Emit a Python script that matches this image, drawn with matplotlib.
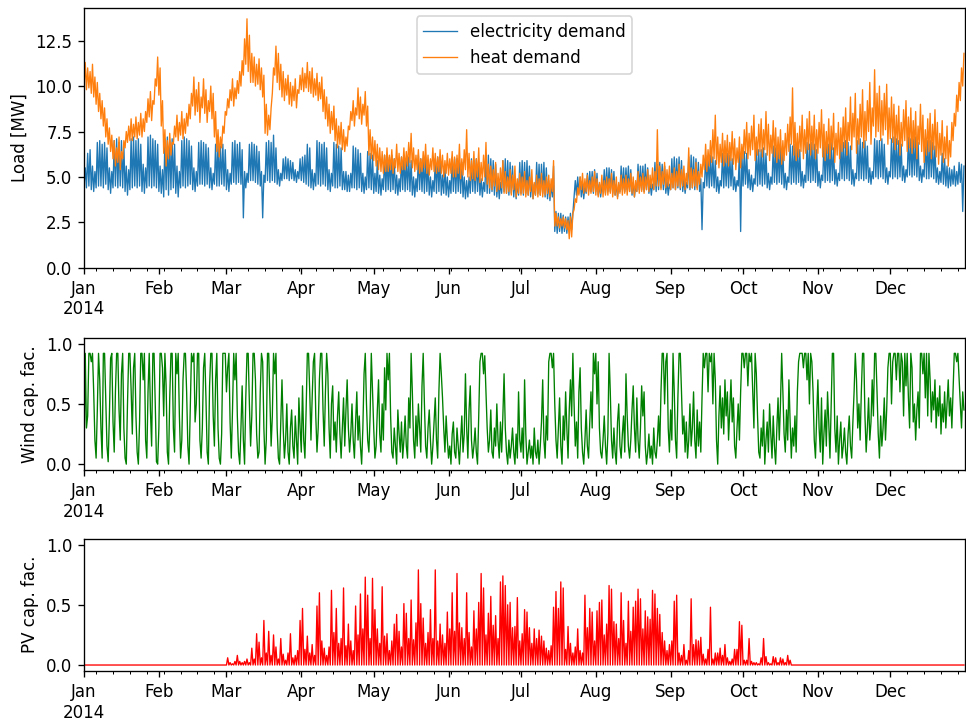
import numpy as np
import matplotlib.pyplot as plt
import matplotlib.dates as mdates
import matplotlib.ticker as mticker

# daily values, one row per week (Wed..Tue), 2014
# electricity demand [MW]: daytime peak / night low
elec_hi = [
    5.5, 6.3, 6.5, 5.6, 5.3, 6.9, 7.0,
    6.8, 6.9, 6.6, 5.5, 5.3, 7.0, 7.1,
    6.9, 7.0, 6.7, 5.6, 5.4, 7.1, 7.2,
    7.0, 7.1, 6.8, 5.7, 5.5, 7.2, 7.3,
    7.1, 7.0, 6.8, 5.6, 5.4, 7.1, 7.2,
    7.0, 7.1, 6.8, 5.6, 5.3, 7.0, 7.2,
    7.1, 7.0, 6.7, 5.5, 5.3, 6.9, 7.0,
    6.9, 6.8, 6.6, 5.5, 5.2, 6.8, 6.9,
    6.7, 6.8, 6.5, 5.4, 5.2, 6.9, 7.0,
    6.8, 6.9, 6.5, 5.3, 5.2, 6.8, 6.9,
    6.8, 6.7, 6.4, 5.3, 5.1, 6.9, 7.0,
    6.9, 7.3, 6.6, 5.4, 5.2, 6.0, 6.1,
    6.0, 5.9, 5.8, 5.4, 5.3, 6.0, 6.1,
    6.2, 6.8, 6.6, 5.4, 5.2, 7.0, 6.9,
    6.8, 6.9, 6.6, 5.4, 5.2, 6.9, 6.8,
    6.7, 6.6, 5.3, 5.3, 5.1, 5.2, 6.7,
    6.6, 6.5, 6.3, 5.2, 5.0, 6.4, 6.3,
    6.2, 5.2, 5.9, 5.1, 4.9, 6.2, 6.1,
    6.1, 6.2, 6.0, 5.1, 4.9, 6.1, 6.2,
    6.0, 6.1, 5.9, 5.0, 4.9, 6.2, 6.0,
    6.0, 6.1, 5.8, 5.0, 4.8, 6.0, 6.1,
    6.0, 5.1, 5.6, 5.0, 4.8, 6.1, 6.0,
    6.0, 5.9, 5.8, 5.0, 4.8, 5.0, 6.0,
    5.9, 6.0, 5.8, 4.9, 4.7, 6.1, 6.2,
    6.0, 5.9, 5.7, 4.9, 4.7, 5.9, 6.0,
    5.9, 5.8, 5.6, 4.8, 4.6, 5.8, 5.9,
    5.8, 5.9, 5.6, 4.8, 4.6, 5.8, 5.7,
    5.7, 5.8, 5.5, 4.8, 4.6, 5.6, 3.1,
    3.0, 3.0, 2.9, 2.8, 2.8, 3.0, 3.0,
    4.8, 5.0, 5.0, 4.6, 4.5, 5.2, 5.3,
    5.3, 5.4, 5.2, 4.6, 4.5, 5.4, 5.5,
    5.5, 5.4, 5.3, 4.6, 4.5, 5.6, 5.5,
    5.5, 5.6, 5.4, 4.7, 4.5, 5.7, 5.6,
    5.6, 5.7, 5.5, 4.7, 4.6, 5.8, 5.7,
    5.8, 5.7, 5.6, 4.8, 4.6, 6.0, 6.1,
    6.0, 6.1, 5.9, 4.9, 4.7, 6.1, 6.2,
    6.1, 6.0, 5.8, 4.9, 4.7, 6.2, 6.1,
    6.2, 6.1, 5.9, 5.0, 4.8, 6.3, 6.2,
    6.3, 6.2, 6.0, 5.0, 4.8, 6.4, 6.3,
    6.4, 6.3, 5.4, 5.1, 4.9, 6.6, 6.5,
    6.5, 6.6, 6.3, 5.2, 5.0, 6.7, 6.6,
    6.6, 6.7, 6.4, 5.2, 5.0, 6.8, 6.7,
    6.8, 6.7, 6.5, 5.3, 5.1, 6.9, 6.8,
    6.9, 6.8, 6.5, 5.3, 5.1, 6.8, 6.9,
    6.8, 6.9, 6.6, 5.4, 5.2, 7.0, 6.9,
    7.0, 6.9, 6.7, 5.4, 5.2, 7.0, 7.1,
    6.9, 7.0, 6.7, 5.5, 5.3, 7.1, 7.0,
    7.0, 7.1, 6.8, 5.5, 5.3, 7.1, 7.2,
    7.1, 7.0, 6.8, 5.6, 5.4, 7.2, 7.1,
    7.1, 7.2, 6.9, 5.6, 5.4, 7.1, 7.0,
    7.0, 6.9, 6.7, 5.5, 5.3, 6.3, 6.0,
    5.6, 5.5, 5.4, 5.6, 5.3, 5.8, 5.7,
    5.6,
]
elec_lo = [
    4.5, 4.4, 4.5, 4.3, 4.2, 4.4, 4.5,
    4.5, 4.4, 4.6, 4.3, 4.1, 4.4, 4.5,
    4.4, 4.5, 4.4, 4.2, 4.0, 4.3, 4.4,
    4.5, 4.4, 4.5, 4.2, 4.1, 4.4, 4.5,
    4.4, 4.5, 4.4, 4.2, 4.1, 3.9, 4.3,
    4.0, 4.3, 4.4, 4.1, 3.9, 4.4, 4.5,
    4.4, 4.5, 4.6, 4.3, 4.2, 4.5, 4.6,
    4.6, 4.5, 4.6, 4.4, 4.3, 4.6, 4.5,
    4.5, 4.6, 4.5, 4.3, 4.2, 4.6, 4.7,
    4.6, 4.7, 4.6, 2.75, 4.4, 4.7, 4.8,
    4.8, 4.7, 4.6, 4.5, 2.75, 4.7, 4.8,
    4.7, 4.8, 4.7, 4.6, 4.5, 4.8, 4.9,
    4.9, 4.8, 4.9, 4.8, 4.7, 4.9, 4.8,
    4.7, 4.6, 4.5, 4.4, 4.3, 4.5, 4.6,
    4.5, 4.6, 4.5, 4.3, 4.2, 4.5, 4.4,
    4.4, 4.5, 4.3, 4.3, 4.2, 4.2, 4.4,
    4.4, 4.3, 4.4, 4.2, 4.1, 4.3, 4.4,
    4.3, 4.1, 4.2, 4.1, 4.0, 4.3, 4.2,
    4.3, 4.2, 4.3, 4.1, 4.0, 4.2, 4.3,
    4.2, 4.3, 4.2, 4.0, 3.9, 4.2, 4.3,
    4.2, 4.1, 4.2, 4.0, 3.9, 4.2, 4.1,
    4.2, 4.0, 4.1, 4.0, 3.9, 4.1, 4.2,
    4.1, 4.2, 4.1, 3.9, 3.8, 3.9, 4.1,
    4.2, 4.1, 4.2, 4.0, 3.9, 4.2, 4.1,
    4.1, 4.2, 4.0, 3.9, 3.8, 4.1, 4.2,
    4.1, 4.0, 4.1, 3.9, 3.8, 4.0, 4.1,
    4.0, 4.1, 4.0, 3.9, 3.8, 4.0, 4.1,
    4.0, 4.1, 3.9, 3.8, 3.7, 3.9, 2.0,
    1.9, 2.0, 1.9, 2.0, 1.9, 2.0, 2.1,
    3.9, 4.0, 4.1, 3.9, 3.8, 4.1, 4.2,
    4.2, 4.1, 4.2, 4.0, 3.9, 4.2, 4.1,
    4.2, 4.2, 4.1, 4.0, 3.9, 4.2, 4.3,
    4.2, 4.3, 4.2, 4.0, 3.9, 4.2, 4.3,
    4.3, 4.2, 4.3, 4.1, 4.0, 4.3, 4.2,
    4.3, 4.4, 4.3, 4.1, 4.0, 4.3, 4.4,
    4.3, 4.4, 4.3, 4.2, 4.1, 4.4, 4.3,
    4.4, 4.3, 4.4, 4.2, 2.1, 4.4, 4.5,
    4.4, 4.5, 4.4, 4.2, 4.1, 4.5, 4.4,
    4.5, 4.4, 4.5, 4.3, 4.2, 4.5, 2.0,
    4.5, 4.6, 4.4, 4.3, 4.2, 4.6, 4.5,
    4.6, 4.5, 4.6, 4.4, 4.3, 4.6, 4.7,
    4.6, 4.7, 4.6, 4.4, 4.3, 4.7, 4.6,
    4.7, 4.6, 4.7, 4.5, 4.4, 4.7, 4.8,
    4.7, 4.8, 4.7, 4.5, 4.4, 4.8, 4.7,
    4.8, 4.7, 4.8, 4.6, 4.5, 4.8, 4.9,
    4.8, 4.9, 4.8, 4.6, 4.5, 4.9, 4.8,
    4.9, 4.8, 4.9, 4.7, 4.6, 4.9, 5.0,
    4.9, 5.0, 4.9, 4.7, 4.6, 5.0, 4.9,
    5.0, 4.9, 5.0, 4.8, 4.7, 5.0, 5.1,
    5.0, 5.1, 5.0, 4.8, 4.7, 5.0, 4.9,
    4.9, 5.0, 4.9, 4.7, 4.6, 4.7, 4.6,
    4.5, 4.4, 4.5, 4.6, 4.5, 4.6, 4.7,
    3.1,
]

# heat demand [MW]: daily high / daily low
heat_hi = [
    11.3, 11.0, 10.8, 11.2, 10.5, 10.2, 9.6,
    9.2, 8.8, 8.2, 7.7, 7.3, 7.0, 6.6,
    7.2, 6.4, 7.0, 7.5, 7.8, 8.2, 7.9,
    8.3, 8.0, 8.5, 8.2, 8.6, 9.3, 9.7,
    9.2, 10.4, 11.6, 11.0, 9.2, 7.6, 7.0,
    7.4, 6.9, 7.8, 8.4, 8.0, 8.6, 8.2,
    8.5, 9.0, 9.6, 10.5, 9.8, 10.2, 9.4,
    10.4, 9.8, 9.2, 10.0, 9.6, 8.6, 7.6,
    7.2, 7.8, 8.6, 9.3, 9.8, 10.4, 9.9,
    10.3, 10.8, 11.4, 12.6, 13.7, 12.8, 11.8,
    11.6, 11.2, 11.5, 11.0, 10.6, 9.0, 8.4,
    8.8, 11.0, 12.2, 11.8, 11.2, 10.8, 10.4,
    10.6, 10.2, 10.0, 10.4, 9.8, 10.6, 11.0,
    10.7, 11.3, 10.8, 11.0, 10.4, 10.7, 10.2,
    10.5, 9.8, 9.4, 9.0, 8.6, 8.9, 8.2,
    7.8, 8.0, 7.6, 7.2, 7.8, 8.6, 9.2,
    8.8, 9.9, 9.4, 9.0, 9.7, 8.9, 7.6,
    7.2, 7.0, 6.8, 6.6, 6.4, 6.2, 6.6,
    6.2, 6.5, 6.0, 6.8, 6.3, 6.1, 6.6,
    6.4, 6.9, 7.4, 6.6, 6.2, 6.5, 6.0,
    6.4, 6.8, 6.2, 6.0, 6.6, 6.3, 6.1,
    6.5, 6.2, 5.9, 6.3, 6.0, 6.4, 6.1,
    6.2, 6.8, 6.0, 6.5, 7.6, 6.3, 5.9,
    6.4, 6.0, 6.6, 5.8, 6.2, 6.9, 5.7,
    5.6, 5.4, 5.8, 5.2, 5.5, 5.9, 5.3,
    5.0, 5.4, 5.1, 5.6, 4.9, 5.2, 5.0,
    5.3, 4.8, 5.0, 5.4, 4.7, 5.1, 4.9,
    5.2, 4.8, 5.0, 5.1, 4.9, 5.9, 3.0,
    2.8, 2.7, 2.8, 2.7, 2.6, 2.8, 3.0,
    3.8, 4.4, 5.0, 5.2, 4.9, 5.1, 4.8,
    5.0, 5.3, 4.9, 4.7, 5.1, 4.8, 5.0,
    4.9, 5.2, 4.8, 5.0, 4.7, 5.1, 4.9,
    5.1, 4.9, 5.2, 5.0, 4.8, 5.3, 5.0,
    5.2, 5.0, 5.4, 5.1, 5.5, 5.3, 7.6,
    5.6, 5.3, 5.8, 5.4, 5.6, 5.2, 5.5,
    5.3, 5.7, 5.4, 5.6, 5.2, 6.6, 5.5,
    5.4, 5.8, 5.3, 5.7, 6.2, 6.8, 6.5,
    7.0, 7.6, 8.4, 7.2, 6.8, 7.4, 7.0,
    7.3, 6.9, 7.5, 7.1, 6.6, 7.2, 6.8,
    7.6, 8.0, 7.4, 7.8, 8.4, 7.2, 7.9,
    8.2, 7.6, 8.6, 7.9, 7.3, 8.1, 7.7,
    7.2, 7.6, 7.0, 7.4, 7.9, 8.3, 9.9,
    8.0, 7.4, 7.8, 8.4, 7.6, 8.2, 8.6,
    7.8, 8.4, 7.6, 8.0, 8.7, 7.9, 7.5,
    8.2, 7.8, 8.5, 7.4, 8.0, 7.7, 8.3,
    8.8, 8.0, 9.4, 8.5, 9.6, 8.2, 9.0,
    9.8, 8.6, 9.2, 10.2, 8.8, 10.9, 9.6,
    10.0, 9.2, 9.6, 10.1, 8.8, 9.4, 9.0,
    8.4, 8.9, 8.0, 8.7, 9.2, 8.3, 8.8,
    8.1, 8.6, 7.8, 9.0, 8.4, 7.6, 8.2,
    8.5, 7.9, 8.7, 8.0, 7.4, 8.1, 7.2,
    7.8, 7.0, 8.0, 8.5, 9.5, 10.2, 11.0,
    11.8,
]
heat_lo = [
    10.0, 9.8, 9.9, 9.6, 9.4, 9.0, 8.6,
    8.2, 7.8, 7.2, 6.8, 6.4, 6.0, 5.6,
    5.8, 5.4, 6.0, 6.6, 6.9, 7.0, 7.0,
    7.2, 7.1, 7.3, 7.2, 7.5, 8.0, 8.3,
    8.1, 9.0, 10.0, 9.5, 7.8, 6.3, 5.6,
    6.0, 6.2, 6.8, 7.2, 7.0, 7.3, 7.1,
    7.4, 7.8, 8.2, 8.9, 8.4, 8.6, 8.0,
    8.8, 8.5, 8.0, 8.6, 8.2, 7.2, 6.4,
    6.1, 6.6, 7.4, 8.4, 8.8, 9.2, 8.9,
    9.3, 9.6, 10.0, 10.6, 11.2, 10.8, 10.2,
    10.2, 10.0, 10.1, 9.8, 9.4, 7.4, 7.3,
    7.6, 9.6, 10.6, 10.2, 9.8, 9.4, 9.2,
    9.5, 9.0, 8.9, 9.2, 8.8, 9.6, 9.8,
    9.7, 9.9, 9.7, 9.6, 9.4, 9.5, 9.2,
    9.3, 8.6, 8.2, 7.8, 7.4, 7.6, 7.0,
    6.6, 6.8, 6.5, 6.4, 6.7, 7.6, 8.1,
    7.8, 8.4, 8.2, 7.9, 8.4, 7.8, 6.2,
    6.0, 5.9, 5.6, 5.4, 5.3, 5.2, 5.3,
    5.3, 5.4, 5.2, 5.5, 5.3, 5.2, 5.4,
    5.4, 5.6, 5.8, 5.5, 5.3, 5.4, 5.2,
    5.3, 5.5, 5.2, 5.1, 5.4, 5.3, 5.2,
    5.3, 5.2, 5.0, 5.2, 5.1, 5.2, 5.0,
    5.0, 5.2, 4.9, 5.1, 5.4, 5.0, 4.8,
    4.9, 4.8, 5.0, 4.7, 4.8, 5.0, 4.6,
    4.4, 4.3, 4.5, 4.2, 4.3, 4.4, 4.1,
    4.1, 4.2, 4.0, 4.3, 3.9, 4.1, 4.0,
    4.1, 3.9, 4.0, 4.2, 3.8, 4.0, 3.9,
    4.0, 3.9, 4.0, 4.1, 3.9, 4.2, 2.3,
    2.3, 2.2, 2.3, 2.2, 2.1, 1.6, 1.7,
    3.2, 3.6, 4.0, 4.3, 4.1, 4.2, 4.0,
    4.1, 4.2, 4.0, 3.9, 4.1, 3.9, 4.0,
    4.0, 4.1, 3.9, 4.0, 3.8, 4.1, 4.0,
    4.1, 4.0, 4.2, 4.1, 3.9, 4.2, 4.1,
    4.2, 4.1, 4.3, 4.2, 4.4, 4.3, 4.5,
    4.5, 4.3, 4.6, 4.4, 4.5, 4.3, 4.4,
    4.3, 4.5, 4.4, 4.5, 4.3, 4.6, 4.4,
    4.4, 4.5, 4.3, 4.6, 5.0, 5.4, 5.3,
    5.6, 5.8, 6.0, 5.7, 5.5, 5.8, 5.6,
    5.8, 5.6, 5.9, 5.7, 5.4, 5.8, 5.5,
    6.0, 6.3, 6.0, 6.2, 6.5, 5.9, 6.2,
    6.4, 6.1, 6.5, 6.2, 5.9, 6.3, 6.1,
    5.8, 6.0, 5.7, 5.9, 6.2, 6.4, 6.8,
    6.2, 5.9, 6.1, 6.4, 6.0, 6.3, 6.5,
    6.2, 6.5, 6.0, 6.3, 6.6, 6.1, 5.9,
    6.3, 6.0, 6.5, 5.8, 6.2, 6.0, 6.4,
    6.6, 6.2, 7.0, 6.5, 7.2, 6.3, 6.8,
    7.2, 6.6, 7.0, 7.5, 6.8, 7.8, 7.2,
    7.5, 7.0, 7.3, 7.6, 6.8, 7.1, 6.9,
    6.5, 6.8, 6.2, 6.7, 7.0, 6.4, 6.6,
    6.3, 6.6, 6.0, 6.8, 6.4, 5.8, 6.2,
    6.4, 6.0, 6.5, 6.1, 5.7, 6.2, 5.8,
    6.0, 5.6, 6.1, 7.0, 7.8, 8.6, 9.2,
    10.0,
]

# wind capacity factor, two readings per day (00:00, 12:00)
wind_cf = [
    0.05, 0.92, 0.30, 0.40, 0.92, 0.92, 0.85, 0.92, 0.60, 0.20, 0.05, 0.45, 0.92, 0.70,
    0.30, 0.05, 0.92, 0.92, 0.55, 0.15, 0.02, 0.40, 0.88, 0.92, 0.35, 0.10, 0.60, 0.92,
    0.92, 0.45, 0.20, 0.75, 0.92, 0.30, 0.05, 0.00, 0.50, 0.92, 0.92, 0.62, 0.25, 0.80,
    0.92, 0.40, 0.10, 0.00, 0.35, 0.92, 0.92, 0.70, 0.92, 0.20, 0.05, 0.60, 0.92, 0.45,
    0.15, 0.92, 0.92, 0.50, 0.02, 0.00, 0.30, 0.92, 0.92, 0.80, 0.40, 0.92, 0.65, 0.10,
    0.00, 0.55, 0.92, 0.92, 0.30, 0.10, 0.92, 0.75, 0.92, 0.40, 0.05, 0.20, 0.70, 0.92,
    0.92, 0.60, 0.15, 0.00, 0.45, 0.92, 0.85, 0.92, 0.35, 0.50, 0.92, 0.92, 0.20, 0.05,
    0.30, 0.80, 0.92, 0.55, 0.10, 0.00, 0.65, 0.92, 0.92, 0.40, 0.15, 0.70, 0.92, 0.30,
    0.05, 0.00, 0.25, 0.92, 0.92, 0.92, 0.60, 0.80, 0.92, 0.35, 0.05, 0.45, 0.92, 0.70,
    0.92, 0.40, 0.10, 0.00, 0.30, 0.65, 0.20, 0.00, 0.55, 0.92, 0.92, 0.50, 0.15, 0.40,
    0.92, 0.92, 0.70, 0.25, 0.05, 0.10, 0.60, 0.92, 0.85, 0.30, 0.00, 0.20, 0.92, 0.92,
    0.55, 0.15, 0.40, 0.92, 0.75, 0.92, 0.30, 0.05, 0.00, 0.35, 0.70, 0.30, 0.05, 0.20,
    0.50, 0.10, 0.00, 0.30, 0.45, 0.15, 0.05, 0.40, 0.20, 0.00, 0.55, 0.30, 0.10, 0.65,
    0.20, 0.05, 0.45, 0.92, 0.92, 0.60, 0.20, 0.55, 0.85, 0.92, 0.40, 0.10, 0.30, 0.70,
    0.92, 0.92, 0.45, 0.15, 0.60, 0.92, 0.75, 0.30, 0.05, 0.50, 0.65, 0.20, 0.35, 0.10,
    0.40, 0.60, 0.25, 0.05, 0.30, 0.55, 0.15, 0.45, 0.70, 0.30, 0.10, 0.25, 0.50, 0.20,
    0.05, 0.35, 0.60, 0.20, 0.40, 0.15, 0.00, 0.30, 0.75, 0.92, 0.50, 0.20, 0.10, 0.40,
    0.92, 0.60, 0.30, 0.05, 0.15, 0.45, 0.70, 0.25, 0.10, 0.50, 0.20, 0.80, 0.45, 0.92,
    0.70, 0.92, 0.40, 0.10, 0.05, 0.30, 0.15, 0.00, 0.45, 0.25, 0.10, 0.35, 0.05, 0.20,
    0.40, 0.15, 0.05, 0.55, 0.30, 0.92, 0.60, 0.20, 0.05, 0.40, 0.15, 0.50, 0.30, 0.10,
    0.65, 0.92, 0.50, 0.15, 0.05, 0.30, 0.45, 0.20, 0.00, 0.15, 0.35, 0.55, 0.20, 0.05,
    0.60, 0.92, 0.75, 0.55, 0.30, 0.10, 0.40, 0.20, 0.05, 0.15, 0.00, 0.25, 0.35, 0.10,
    0.05, 0.30, 0.15, 0.00, 0.20, 0.40, 0.10, 0.25, 0.75, 0.30, 0.05, 0.45, 0.65, 0.20,
    0.05, 0.15, 0.30, 0.10, 0.00, 0.40, 0.85, 0.92, 0.92, 0.75, 0.90, 0.60, 0.30, 0.10,
    0.20, 0.45, 0.10, 0.05, 0.30, 0.15, 0.50, 0.20, 0.05, 0.35, 0.10, 0.40, 0.75, 0.30,
    0.10, 0.00, 0.20, 0.05, 0.15, 0.30, 0.10, 0.00, 0.25, 0.05, 0.60, 0.20, 0.10, 0.30,
    0.05, 0.70, 0.25, 0.00, 0.10, 0.20, 0.05, 0.15, 0.00, 0.30, 0.10, 0.05, 0.20, 0.00,
    0.15, 0.35, 0.70, 0.20, 0.05, 0.40, 0.20, 0.85, 0.92, 0.92, 0.80, 0.92, 0.50, 0.20,
    0.05, 0.30, 0.55, 0.15, 0.00, 0.40, 0.20, 0.60, 0.30, 0.05, 0.45, 0.70, 0.40, 0.92,
    0.50, 0.15, 0.35, 0.05, 0.60, 0.80, 0.30, 0.10, 0.00, 0.20, 0.45, 0.15, 0.05, 0.35,
    0.60, 0.30, 0.92, 0.75, 0.92, 0.50, 0.85, 0.30, 0.10, 0.05, 0.20, 0.40, 0.15, 0.00,
    0.25, 0.92, 0.60, 0.20, 0.05, 0.30, 0.10, 0.00, 0.35, 0.50, 0.15, 0.05, 0.25, 0.40,
    0.10, 0.75, 0.40, 0.15, 0.05, 0.20, 0.45, 0.65, 0.30, 0.10, 0.55, 0.20, 0.05, 0.30,
    0.65, 0.40, 0.60, 0.15, 0.00, 0.10, 0.25, 0.05, 0.15, 0.00, 0.30, 0.10, 0.05, 0.20,
    0.40, 0.15, 0.60, 0.92, 0.92, 0.50, 0.85, 0.92, 0.30, 0.10, 0.45, 0.20, 0.92, 0.60,
    0.20, 0.05, 0.55, 0.92, 0.92, 0.60, 0.25, 0.40, 0.10, 0.35, 0.05, 0.20, 0.50, 0.15,
    0.30, 0.60, 0.20, 0.05, 0.45, 0.15, 0.35, 0.10, 0.55, 0.92, 0.80, 0.92, 0.92, 0.60,
    0.92, 0.85, 0.92, 0.50, 0.92, 0.70, 0.20, 0.00, 0.40, 0.65, 0.30, 0.55, 0.25, 0.70,
    0.40, 0.60, 0.20, 0.45, 0.70, 0.35, 0.55, 0.15, 0.05, 0.30, 0.50, 0.20, 0.60, 0.92,
    0.92, 0.80, 0.92, 0.92, 0.65, 0.92, 0.85, 0.92, 0.60, 0.30, 0.92, 0.75, 0.40, 0.10,
    0.05, 0.30, 0.15, 0.45, 0.00, 0.20, 0.35, 0.10, 0.50, 0.25, 0.05, 0.40, 0.15, 0.00,
    0.30, 0.55, 0.20, 0.50, 0.92, 0.60, 0.25, 0.10, 0.45, 0.20, 0.70, 0.35, 0.05, 0.30,
    0.15, 0.40, 0.10, 0.60, 0.85, 0.92, 0.92, 0.92, 0.80, 0.92, 0.92, 0.70, 0.92, 0.50,
    0.92, 0.85, 0.60, 0.20, 0.05, 0.40, 0.70, 0.30, 0.10, 0.55, 0.00, 0.25, 0.45, 0.15,
    0.60, 0.35, 0.05, 0.50, 0.92, 0.92, 0.30, 0.10, 0.40, 0.00, 0.20, 0.35, 0.05, 0.15,
    0.30, 0.10, 0.00, 0.25, 0.40, 0.15, 0.05, 0.35, 0.60, 0.92, 0.70, 0.30, 0.50, 0.20,
    0.60, 0.92, 0.92, 0.40, 0.10, 0.30, 0.55, 0.20, 0.35, 0.70, 0.40, 0.92, 0.92, 0.60,
    0.25, 0.05, 0.40, 0.15, 0.30, 0.55, 0.20, 0.45, 0.80, 0.92, 0.92, 0.50, 0.85, 0.92,
    0.92, 0.70, 0.92, 0.92, 0.60, 0.92, 0.85, 0.40, 0.92, 0.65, 0.92, 0.55, 0.30, 0.92,
    0.80, 0.35, 0.50, 0.20, 0.45, 0.60, 0.30, 0.92, 0.92, 0.75, 0.92, 0.55, 0.92, 0.40,
    0.92, 0.70, 0.35, 0.60, 0.45, 0.70, 0.30, 0.55, 0.40, 0.65, 0.25, 0.50, 0.35, 0.60,
    0.30, 0.50, 0.70, 0.40, 0.55, 0.30, 0.60, 0.92, 0.92, 0.85, 0.92, 0.70, 0.50, 0.30,
    0.60, 0.45,
]

# PV capacity factor: midday peak for each day from 1 March (day 59) on
pv_first_day = 59
pv_peak = [
    0.06, 0.02, 0.01, 0.03, 0.08, 0.03, 0.02, 0.03, 0.05, 0.02, 0.14,
    0.05, 0.26, 0.19, 0.06, 0.37, 0.10, 0.28, 0.08, 0.25, 0.15,
    0.05, 0.22, 0.09, 0.04, 0.10, 0.26, 0.06, 0.08, 0.12, 0.37,
    0.47, 0.13, 0.24, 0.10, 0.17, 0.08, 0.49, 0.60, 0.20, 0.14,
    0.08, 0.15, 0.62, 0.27, 0.47, 0.18, 0.22, 0.64, 0.16, 0.34,
    0.20, 0.12, 0.49, 0.25, 0.59, 0.30, 0.73, 0.58, 0.22, 0.72,
    0.46, 0.30, 0.18, 0.65, 0.24, 0.26, 0.12, 0.20, 0.34, 0.42,
    0.28, 0.15, 0.51, 0.43, 0.22, 0.54, 0.21, 0.35, 0.79, 0.51,
    0.39, 0.18, 0.27, 0.46, 0.22, 0.79, 0.20, 0.34, 0.25, 0.18,
    0.44, 0.30, 0.60, 0.28, 0.76, 0.35, 0.31, 0.22, 0.60, 0.27,
    0.15, 0.45, 0.30, 0.52, 0.76, 0.64, 0.25, 0.43, 0.57, 0.33,
    0.41, 0.22, 0.69, 0.74, 0.66, 0.50, 0.52, 0.31, 0.32, 0.56,
    0.20, 0.26, 0.46, 0.44, 0.31, 0.18, 0.30, 0.22, 0.29, 0.24,
    0.20, 0.14, 0.12, 0.16, 0.48, 0.61, 0.47, 0.69, 0.64, 0.13,
    0.32, 0.18, 0.10, 0.15, 0.30, 0.12, 0.10, 0.58, 0.31, 0.47,
    0.44, 0.20, 0.45, 0.52, 0.54, 0.25, 0.34, 0.66, 0.63, 0.36,
    0.34, 0.22, 0.60, 0.37, 0.18, 0.53, 0.28, 0.48, 0.53, 0.63,
    0.55, 0.30, 0.45, 0.40, 0.38, 0.62, 0.59, 0.47, 0.42, 0.27,
    0.20, 0.12, 0.17, 0.20, 0.53, 0.58, 0.10, 0.08, 0.17, 0.04,
    0.12, 0.55, 0.17, 0.21, 0.20, 0.23, 0.09, 0.05, 0.13, 0.48,
    0.05, 0.10, 0.10, 0.14, 0.08, 0.17, 0.06, 0.03, 0.05, 0.13,
    0.13, 0.36, 0.33, 0.04, 0.04, 0.22, 0.03, 0.02, 0.02, 0.01,
    0.06, 0.22, 0.07, 0.02, 0.01, 0.07, 0.06, 0.02, 0.06, 0.05,
    0.02, 0.08, 0.04,
]


def half_daily(night, day):
    out = np.empty(2 * len(night))
    out[0::2] = night
    out[1::2] = day
    return out


n_days = len(elec_hi)
t = np.datetime64('2014-01-01T00:00') + np.arange(2 * n_days) * np.timedelta64(12, 'h')

elec = half_daily(elec_lo, elec_hi)
heat = half_daily(heat_lo, heat_hi)
wind = np.array(wind_cf)
pv_day = np.zeros(n_days)
pv_day[pv_first_day:pv_first_day + len(pv_peak)] = pv_peak
pv = half_daily(np.zeros(n_days), pv_day)


def month_fmt(x, pos=None):
    d = mdates.num2date(x)
    if d.month == 1:
        return d.strftime('%b\n%Y')
    return d.strftime('%b')


def dress(ax):
    ax.set_xlim(t[0], np.datetime64('2014-12-31T23:00'))
    ax.xaxis.set_major_locator(mdates.MonthLocator())
    ax.xaxis.set_major_formatter(mticker.FuncFormatter(month_fmt))
    ax.xaxis.set_minor_locator(mdates.WeekdayLocator(byweekday=mdates.MO))


fig = plt.figure(figsize=(966 / 120, 720 / 120), dpi=120)

ax1 = fig.add_axes([0.087, 0.628, 0.912, 0.361])
ax1.plot(t, elec, color='#1f77b4', lw=0.8, label='electricity demand')
ax1.plot(t, heat, color='#ff7f0e', lw=0.8, label='heat demand')
ax1.set_ylim(0, 14.3)
ax1.set_ylabel('Load [MW]')
ax1.legend(loc='upper center')
dress(ax1)

ax2 = fig.add_axes([0.087, 0.347, 0.912, 0.184])
ax2.plot(t, wind, color='green', lw=0.8)
ax2.set_ylim(-0.05, 1.05)
ax2.set_ylabel('Wind cap. fac.')
dress(ax2)

ax3 = fig.add_axes([0.087, 0.068, 0.912, 0.184])
ax3.plot(t, pv, color='red', lw=0.8)
ax3.set_ylim(-0.05, 1.05)
ax3.set_ylabel('PV cap. fac.')
dress(ax3)

# centre the two-line "Jan / 2014" labels like pandas does
fig.canvas.draw()
for ax in (ax1, ax2, ax3):
    for lab in ax.get_xticklabels():
        lab.set_multialignment('center')

fig.savefig('out.png', dpi=120)
